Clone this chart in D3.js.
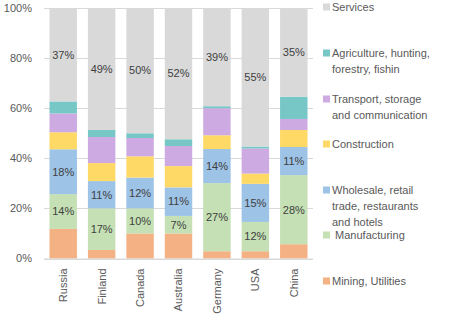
<!DOCTYPE html>
<html>
<head>
<meta charset="UTF-8">
<script src="https://d3js.org/d3.v7.min.js"></script>
<style>
  body { margin: 0; background: #fff; }
  svg { display: block; }
  text { font-family: "Liberation Sans", Arial, sans-serif; }
</style>
</head>
<body>
<svg id="chart" width="454" height="322"></svg>
<script>
// countries along the x axis
const countries = ['Russia', 'Finland', 'Canada', 'Australia', 'Germany', 'USA', 'China']

// sector shares (%) per country, stacked bottom to top
const mining        = [11.8,  3.4, 10.0, 10.0,  2.9,  2.9,  5.7]
const manufacturing = [13.9, 16.6, 10.0,  7.0, 27.2, 11.7, 27.6]
const wholesale     = [17.9, 10.9, 12.3, 11.4, 13.6, 15.2, 11.2]
const construction  = [ 6.8,  7.2,  8.5,  8.5,  5.5,  4.1,  6.8]
const transport     = [ 7.5, 10.4,  7.3,  8.0, 10.8, 10.0,  4.4]
const agriculture   = [ 4.8,  2.8,  1.9,  2.7,  0.8,  0.8,  8.9]
const services      = [37.3, 48.7, 50.0, 52.4, 39.2, 55.3, 35.4]

const yTicks = [0, 20, 40, 60, 80, 100]

const sectors = [
  { key: 'mining',        values: mining,        color: '#F4B183', label: false },
  { key: 'manufacturing', values: manufacturing, color: '#C5E0B4', label: true },
  { key: 'wholesale',     values: wholesale,     color: '#9DC3E6', label: true },
  { key: 'construction',  values: construction,  color: '#FFD966', label: false },
  { key: 'transport',     values: transport,     color: '#CDABE2', label: false },
  { key: 'agriculture',   values: agriculture,   color: '#78C7C7', label: false },
  { key: 'services',      values: services,      color: '#D9D9D9', label: true }
]

// legend entries, top to bottom (text lines + vertical slot)
const legendItems = [
  { key: 'services',      lines: ['Services'],                                   y: 7 },
  { key: 'agriculture',   lines: ['Agriculture, hunting,', 'forestry, fishin'],   y: 53 },
  { key: 'transport',     lines: ['Transport, storage', 'and communication'],    y: 99 },
  { key: 'construction',  lines: ['Construction'],                               y: 144 },
  { key: 'wholesale',     lines: ['Wholesale, retail', 'trade, restaurants', 'and hotels'], y: 190 },
  { key: 'manufacturing', lines: [' Manufacturing'],                             y: 235 },
  { key: 'mining',        lines: ['Mining, Utilities'],                          y: 281 }
]

const svg = d3.select('#chart')
const margin = { top: 8, left: 44, right: 141, bottom: 64 }
const width = 454, height = 322
const innerWidth = width - margin.left - margin.right
const innerHeight = 258.5 - margin.top

// build rows for d3.stack
const rows = countries.map((c, i) => {
  const r = { country: c }
  sectors.forEach(s => r[s.key] = s.values[i])
  return r
})
const stacked = d3.stack()
  .keys(sectors.map(s => s.key))
  .offset(d3.stackOffsetExpand)(rows)

const x = d3.scaleBand()
  .domain(countries)
  .range([0, innerWidth])
  .paddingInner(0.4 / 1.4)
  .paddingOuter(0.2 / 1.4)

const y = d3.scaleLinear()
  .domain([0, 1])
  .range([innerHeight, 0])

const g = svg.append('g')
  .attr('transform', `translate(${margin.left},${margin.top})`)

// gridlines
g.append('g').selectAll('line')
  .data(yTicks)
  .join('line')
  .attr('x1', 0).attr('x2', innerWidth)
  .attr('y1', d => Math.round(y(d / 100)) + 0.5)
  .attr('y2', d => Math.round(y(d / 100)) + 0.5)
  .attr('stroke', '#D9D9D9')
  .attr('stroke-width', 1)

// y axis labels
g.append('g').selectAll('text')
  .data(yTicks)
  .join('text')
  .attr('x', -12)
  .attr('y', d => y(d / 100))
  .attr('dy', '0.35em')
  .attr('text-anchor', 'end')
  .attr('font-size', '11px')
  .attr('fill', '#595959')
  .text(d => d + '%')

// bars
const colorOf = Object.fromEntries(sectors.map(s => [s.key, s.color]))
const layers = g.append('g').selectAll('g')
  .data(stacked)
  .join('g')
  .attr('fill', d => colorOf[d.key])

layers.selectAll('rect')
  .data(d => d)
  .join('rect')
  .attr('x', d => x(d.data.country))
  .attr('width', x.bandwidth())
  .attr('y', d => y(d[1]))
  .attr('height', d => y(d[0]) - y(d[1]))

// value labels on the labelled sectors
const labelled = new Set(sectors.filter(s => s.label).map(s => s.key))
stacked.filter(l => labelled.has(l.key)).forEach(layer => {
  g.append('g').selectAll('text')
    .data(layer)
    .join('text')
    .attr('x', d => x(d.data.country) + x.bandwidth() / 2)
    .attr('y', d => (y(d[0]) + y(d[1])) / 2)
    .attr('dy', '0.35em')
    .attr('text-anchor', 'middle')
    .attr('font-size', '11px')
    .attr('fill', '#404040')
    .text(d => Math.round(d.data[layer.key]) + '%')
})

// x axis baseline
g.append('line')
  .attr('x1', 0).attr('x2', innerWidth)
  .attr('y1', innerHeight + 0.5).attr('y2', innerHeight + 0.5)
  .attr('stroke', '#D9D9D9')

// rotated country names
g.append('g').selectAll('text')
  .data(countries)
  .join('text')
  .attr('transform', d => `translate(${x(d) + x.bandwidth() / 2},${innerHeight + 10}) rotate(-90)`)
  .attr('dy', '0.35em')
  .attr('text-anchor', 'end')
  .attr('font-size', '11px')
  .attr('fill', '#595959')
  .text(d => d)

// legend
const legend = svg.append('g').attr('transform', 'translate(323,0)')
legendItems.forEach(item => {
  legend.append('rect')
    .attr('x', 0)
    .attr('y', item.y - 3.5)
    .attr('width', 7)
    .attr('height', 7)
    .attr('fill', colorOf[item.key])
  const t = legend.append('text')
    .attr('font-size', '11px')
    .attr('fill', '#595959')
    .attr('xml:space', 'preserve')
  item.lines.forEach((line, i) => {
    t.append('tspan')
      .attr('x', 9)
      .attr('y', item.y + i * 16)
      .attr('dy', '0.35em')
      .text(line)
  })
})
</script>
</body>
</html>
